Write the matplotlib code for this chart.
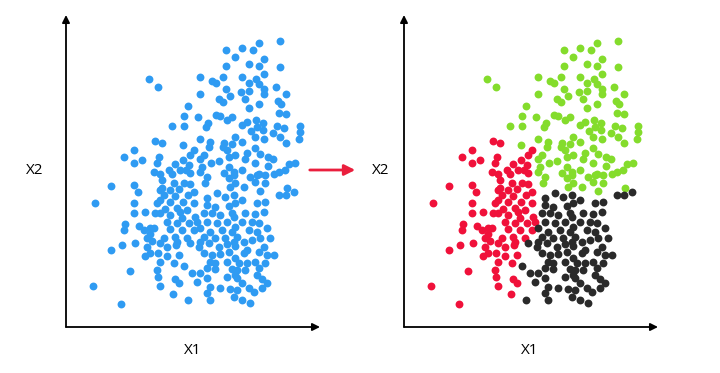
import matplotlib
matplotlib.use("Agg")
import matplotlib.pyplot as plt

# cluster points (X1, X2)
green_x1 = [83, 92, 160, 169, 160, 134, 146, 150, 157, 134, 160, 164, 153, 157, 122,
            214, 193, 176, 187, 198, 183, 193, 214, 198, 176, 190, 183, 193, 210, 198,
            175, 183, 198, 220, 179, 212, 215, 193,
            118, 132, 150, 154, 161, 142, 140, 106, 118, 134, 144, 158, 166, 117, 143,
            157, 161, 138, 134, 145, 153, 163, 136, 134, 163, 168,
            183, 213, 220, 166, 190, 181, 197, 176, 191, 234, 211, 218, 197, 185, 207,
            234, 214, 169, 189, 198, 233, 176, 220, 189, 181, 169, 194, 202, 179, 207,
            189, 229, 223, 202, 219, 176, 213, 193, 208,
            141, 139, 158, 163, 168, 164, 184, 191, 199, 169, 178, 189, 199, 194, 221]
green_x2 = [248, 240, 277, 270, 261, 250, 246, 244, 250, 233, 238, 231, 228, 225, 221,
            286, 284, 279, 277, 268, 263, 261, 260, 253, 250, 248, 244, 243, 240, 238,
            235, 236, 233, 233, 228, 226, 223, 223,
            211, 210, 212, 211, 207, 204, 200, 201, 201, 188, 185, 184, 183, 182, 180,
            180, 177, 172, 168, 164, 166, 170, 160, 155, 160, 155,
            219, 214, 213, 210, 207, 205, 204, 202, 200, 201, 201, 199, 197, 196, 194,
            195, 190, 190, 190, 188, 188, 185, 184, 179, 174, 172, 173, 170, 168, 168,
            164, 164, 163, 161, 157, 157, 155, 153, 153,
            150, 144, 154, 149, 152, 140, 150, 152, 152, 144, 140, 145, 144, 136, 139]

red_x1 = [89, 96, 68, 58, 68, 76, 93, 91, 88, 94,
          128, 124, 117, 109, 123, 120, 114, 103, 106,
          45, 68, 72, 94, 29, 68, 91, 94, 68, 79, 89, 59, 58, 73, 78, 84, 88, 84, 81,
          69, 56, 86,
          124, 96, 108, 118, 124, 96, 104, 113, 98, 109, 122, 128, 104, 117, 128, 99,
          111, 121, 114, 94, 104, 116, 129, 101, 111, 131, 123, 104, 116, 128, 98, 109,
          121, 111,
          45, 81, 79, 84, 92, 94, 64, 91, 92, 27, 94, 55,
          94, 101, 110, 101, 113, 108, 109, 113, 107]
red_x2 = [186, 184, 177, 170, 164, 167, 170, 164, 155, 153,
          177, 172, 167, 163, 162, 157, 157, 157, 153,
          141, 142, 135, 137, 124, 124, 124, 127, 114, 115, 114, 103, 97, 101, 97, 99,
          99, 93, 89, 84, 82, 86,
          154, 147, 144, 144, 143, 139, 137, 138, 132, 131, 132, 135, 125, 125, 124,
          118, 119, 117, 115, 114, 112, 109, 110, 105, 104, 105, 104, 98, 97, 97, 89,
          90, 89, 85,
          77, 80, 71, 74, 74, 65, 56, 57, 50, 41, 41, 23,
          84, 80, 82, 71, 72, 64, 48, 44, 33]

black_x1 = [141, 151, 159, 168, 141, 149, 163, 138, 146, 154, 166, 141, 151, 161, 134,
            144, 156, 166, 138, 149, 159, 124, 134, 168,
            228, 213, 220, 176, 191, 199, 169, 179, 189, 198, 168, 176, 186, 193, 169,
            183, 191, 201, 171, 186, 194, 204, 178,
            133, 143, 153, 161, 169, 138, 146, 154, 163, 144, 149, 161, 169, 118, 141,
            149, 166, 126, 134, 141, 161, 169, 131, 144, 154, 164, 141, 144, 122,
            198, 178, 181, 193, 201, 208, 173, 181, 189, 199, 171, 179, 193, 191, 171,
            196, 201, 176, 183, 196, 171, 188, 168, 176, 184]
black_x2 = [129, 134, 130, 132, 122, 120, 121, 114, 114, 112, 114, 105, 104, 105, 99,
            95, 97, 95, 90, 89, 89, 84, 85, 85,
            135, 132, 132, 127, 124, 125, 124, 114, 113, 115, 110, 105, 105, 104, 100,
            97, 95, 99, 90, 87, 89, 89, 85,
            80, 84, 80, 83, 81, 74, 72, 73, 75, 65, 64, 65, 69, 61, 59, 58, 58, 54, 54,
            49, 50, 52, 45, 40, 39, 38, 34, 27, 27,
            80, 74, 77, 75, 72, 72, 64, 64, 65, 64, 57, 57, 59, 52, 49, 48, 44, 44, 39,
            39, 37, 35, 30, 27, 24]

BLUE, GREEN, RED, BLACK = "#2f9bf2", "#84dc2c", "#f0113a", "#2a2a2a"
W, H = 720, 373

fig = plt.figure(figsize=(W / 100, H / 100), dpi=100)


def make_axes(left_px):
    ax = fig.add_axes([left_px / W, 46 / H, 254 / W, 312 / H])
    ax.set_xlim(0, 254)
    ax.set_ylim(0, 312)
    for s in ax.spines.values():
        s.set_visible(False)
    ax.set_xticks([]); ax.set_yticks([])
    ax.patch.set_alpha(0)
    arr = dict(arrowstyle="-|>", lw=1.3, color="black", mutation_scale=11,
               shrinkA=0, shrinkB=0)
    ax.annotate("", xy=(0, 1), xytext=(0, 0), xycoords="axes fraction", arrowprops=arr)
    ax.annotate("", xy=(1, 0), xytext=(0, 0), xycoords="axes fraction", arrowprops=arr)
    return ax


kw = dict(s=32, linewidths=0, clip_on=False)

ax1 = make_axes(66)
ax1.scatter(green_x1 + red_x1 + black_x1, green_x2 + red_x2 + black_x2, color=BLUE, **kw)

ax2 = make_axes(404)
ax2.scatter(green_x1, green_x2, color=GREEN, **kw)
ax2.scatter(red_x1, red_x2, color=RED, **kw)
ax2.scatter(black_x1, black_x2, color=BLACK, **kw)

lab = dict(fontsize=11, ha="center", va="center", family="Open Sans")
fig.text(35 / W, 1 - 170 / H, "X2", **lab)
fig.text(193 / W, 1 - 350 / H, "X1", **lab)
fig.text(381 / W, 1 - 170 / H, "X2", **lab)
fig.text(530 / W, 1 - 350 / H, "X1", **lab)

fig.add_artist(matplotlib.patches.FancyArrowPatch(
    (307 / W, 1 - 170 / H), (358 / W, 1 - 170 / H), transform=fig.transFigure,
    arrowstyle="-|>", mutation_scale=16, lw=2, color="#ea1f3d"))

fig.savefig("out.png", dpi=100)
